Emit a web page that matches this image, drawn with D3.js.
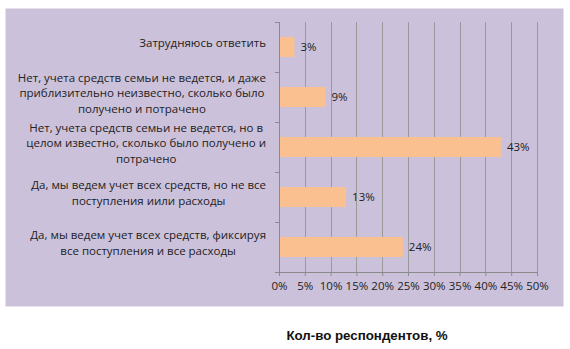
<!DOCTYPE html>
<html lang="ru">
<head>
  <meta charset="UTF-8">
  <title>Кол-во респондентов</title>
  <script src="https://d3js.org/d3.v7.min.js"></script>
  <style>
    body { margin: 0; background: #fff; }
    svg text { font-family: "Open Sans", sans-serif; fill: #222; }
    .cat { font-size: 11.5px; }
    .tick text { font-size: 11.5px; }
    .title { font-family: "Liberation Sans", sans-serif; font-weight: bold; font-size: 13.3px; fill: #111; }
  </style>
</head>
<body>
  <svg width="570" height="349"></svg>

  <script>
    // категории (сверху вниз), с разбиением на строки как в оригинале
    const categories = [
      "Затрудняюсь ответить",
      "Нет, учета средств семьи не ведется, и даже\nприблизительно неизвестно, сколько было\nполучено и потрачено",
      "Нет, учета средств семьи не ведется, но в\nцелом известно, сколько было получено и\nпотрачено",
      "Да, мы ведем учет всех средств, но не все\nпоступления иили расходы",
      "Да, мы ведем учет всех средств, фиксируя\nвсе поступления и все расходы"
    ];
    const values = [3, 9, 43, 13, 24];
    const xTicks = [0, 5, 10, 15, 20, 25, 30, 35, 40, 45, 50];
    const axisTitle = "Кол-во респондентов, %";

    const svg = d3.select("svg");

    // фон области диаграммы
    svg.append("rect")
      .attr("x", 5.5).attr("y", 8.5)
      .attr("width", 558).attr("height", 298)
      .attr("fill", "#ccc1da");

    const margin = {top: 22, left: 279};
    const plotH = 250;

    const x = d3.scaleLinear().domain([0, 50]).range([0, 258]);
    const y = d3.scaleBand().domain(categories).range([0, plotH]).paddingInner(0.6).paddingOuter(0.3);

    const g = svg.append("g").attr("transform", `translate(${margin.left},${margin.top})`);

    // вертикальная сетка
    g.selectAll(".grid")
      .data(xTicks.slice(1))
      .enter().append("line")
        .attr("x1", d => Math.round(x(d)) + 0.5)
        .attr("x2", d => Math.round(x(d)) + 0.5)
        .attr("y1", 0).attr("y2", plotH)
        .attr("stroke", "#9a9a9a");

    // ось Y с делениями между категориями
    g.append("line")
      .attr("x1", 0.5).attr("x2", 0.5).attr("y1", 0).attr("y2", plotH)
      .attr("stroke", "#8a8a8a");
    g.selectAll(".ytick")
      .data(d3.range(categories.length + 1))
      .enter().append("line")
        .attr("x1", -4).attr("x2", 0)
        .attr("y1", i => Math.round(i * plotH / categories.length) + 0.5)
        .attr("y2", i => Math.round(i * plotH / categories.length) + 0.5)
        .attr("stroke", "#8a8a8a");

    // ось X
    const xAxis = g.append("g")
      .attr("transform", `translate(0,${plotH})`)
      .call(d3.axisBottom(x).tickValues(xTicks).tickFormat(d => d + "%").tickSize(4).tickPadding(6));
    xAxis.select(".domain").attr("stroke", "#8a8a8a");
    xAxis.selectAll(".tick line").attr("stroke", "#8a8a8a");
    xAxis.selectAll(".tick text").attr("fill", "#222");

    // столбцы
    g.selectAll(".bar")
      .data(values)
      .enter().append("rect")
        .attr("x", 1)
        .attr("y", (d, i) => y(categories[i]))
        .attr("width", d => x(d) - 1)
        .attr("height", y.bandwidth())
        .attr("fill", "#fac090");

    // подписи значений
    g.selectAll(".val")
      .data(values)
      .enter().append("text")
        .attr("class", "cat")
        .attr("x", d => x(d) + 6)
        .attr("y", (d, i) => y(categories[i]) + y.bandwidth() / 2)
        .attr("dy", "0.35em")
        .text(d => d + "%");

    // подписи категорий: блок выровнен вправо, строки по центру блока
    const lineH = 15.5;
    const rightEdge = -13;
    categories.forEach(c => {
      const lines = c.split("\n");
      const cy = y(c) + y.bandwidth() / 2;
      const t = g.append("text")
        .attr("class", "cat")
        .attr("text-anchor", "middle")
        .attr("y", cy - (lines.length - 1) * lineH / 2)
        .attr("dy", "0.35em");
      const spans = lines.map((l, k) => t.append("tspan")
        .attr("dy", k === 0 ? 0 : lineH)
        .text(l));
      const maxW = d3.max(spans, s => s.node().getComputedTextLength());
      spans.forEach(s => s.attr("x", rightEdge - maxW / 2));
    });

    // заголовок оси
    svg.append("text")
      .attr("class", "title")
      .attr("x", 367).attr("y", 340)
      .attr("text-anchor", "middle")
      .text(axisTitle);
  </script>
</body>
</html>
